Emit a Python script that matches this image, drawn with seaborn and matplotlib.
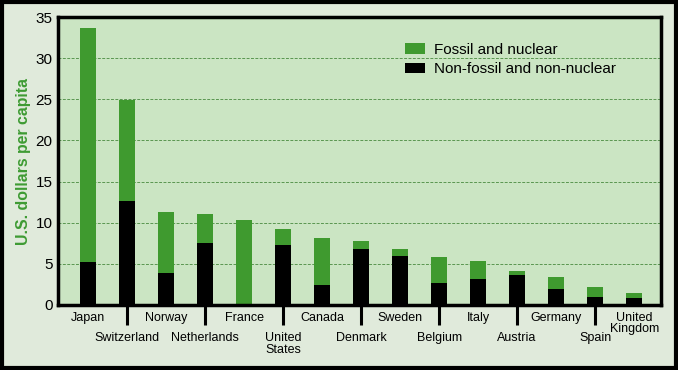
import matplotlib
matplotlib.use("Agg")
import matplotlib.pyplot as plt
import seaborn as sns
import pandas as pd
from matplotlib.patches import Patch, Rectangle

countries = ["Japan", "Switzerland", "Norway", "Netherlands", "France",
             "United\nStates", "Canada", "Denmark", "Sweden", "Belgium",
             "Italy", "Austria", "Germany", "Spain", "United\nKingdom"]
total = [33.7, 24.9, 11.3, 11.1, 10.3, 9.2, 8.1, 7.8, 6.8, 5.8,
         5.3, 4.1, 3.4, 2.15, 1.4]
non_fossil = [5.2, 12.6, 3.9, 7.5, 0.0, 7.3, 2.4, 6.8, 6.0, 2.7,
              3.2, 3.6, 2.0, 1.0, 0.8]
yticks = [0, 5, 10, 15, 20, 25, 30, 35]

GREEN = "#3f9a2f"
PLOT_BG = "#cbe5c3"
OUTER_BG = "#e0eadb"

df = pd.DataFrame({"country": countries, "total": total, "non_fossil": non_fossil})

sns.set_theme(style="white")
plt.rcParams["font.family"] = ["Liberation Sans", "DejaVu Sans"]
plt.rcParams["text.color"] = "black"
plt.rcParams["xtick.color"] = "black"
plt.rcParams["ytick.color"] = "black"

fig = plt.figure(figsize=(6.78, 3.70), dpi=100, facecolor=OUTER_BG)
ax = fig.add_axes([0.0855, 0.1757, 0.8895, 0.7783])
ax.set_facecolor(PLOT_BG)

sns.barplot(data=df, x="country", y="total", color=GREEN, width=0.41,
            saturation=1, linewidth=0, ax=ax, zorder=3)
sns.barplot(data=df, x="country", y="non_fossil", color="black", width=0.41,
            saturation=1, linewidth=0, ax=ax, zorder=4)

ax.set_xlim(-0.77, 14.69)
ax.set_ylim(0, 35)
ax.set_yticks(yticks)
ax.tick_params(axis="y", length=0, pad=4, labelsize=11, labelcolor="black")

for y in yticks[1:-1]:
    ax.axhline(y, color="#5a9650", linestyle=(0, (3, 1.5)), linewidth=0.7, zorder=1)

# staggered country labels: even ones on the first row, odd ones lower with a tick
pos = list(range(len(countries)))
even = pos[0::2]
odd = pos[1::2]
ax.set_xticks(even, [countries[i] for i in even])
ax.set_xticks(odd, [countries[i] for i in odd], minor=True)
ax.tick_params(axis="x", which="major", bottom=True, length=0, pad=5,
               labelsize=9, labelcolor="black")
ax.tick_params(axis="x", which="minor", bottom=True, length=14.5, width=2.2,
               color="black", direction="out", pad=5, labelsize=9, labelcolor="black")
for lbl in ax.get_xticklabels(minor=True) + ax.get_xticklabels():
    lbl.set_linespacing(0.95)

ax.set_xlabel("")
ax.set_ylabel("U.S. dollars per capita", color="#3e9b33", fontweight="bold",
              fontsize=11.4, labelpad=3)

for sp in ax.spines.values():
    sp.set_visible(True)
    sp.set_color("black")
    sp.set_linewidth(2.5)
    sp.set_zorder(6)

handles = [Patch(facecolor=GREEN, edgecolor="none"),
           Patch(facecolor="black", edgecolor="none")]
ax.legend(handles, ["Fossil and nuclear", "Non-fossil and non-nuclear"],
          loc="upper left", bbox_to_anchor=(0.575, 0.91), frameon=False,
          fontsize=11, handlelength=1.3, handleheight=0.65, handletextpad=0.6,
          labelspacing=0.35, borderpad=0, borderaxespad=0, labelcolor="black")

fig.patches.append(Rectangle((0.003, 0.005), 0.994, 0.99, transform=fig.transFigure,
                             fill=False, edgecolor="black", linewidth=3))

fig.savefig("out.png", dpi=100, facecolor=OUTER_BG)
